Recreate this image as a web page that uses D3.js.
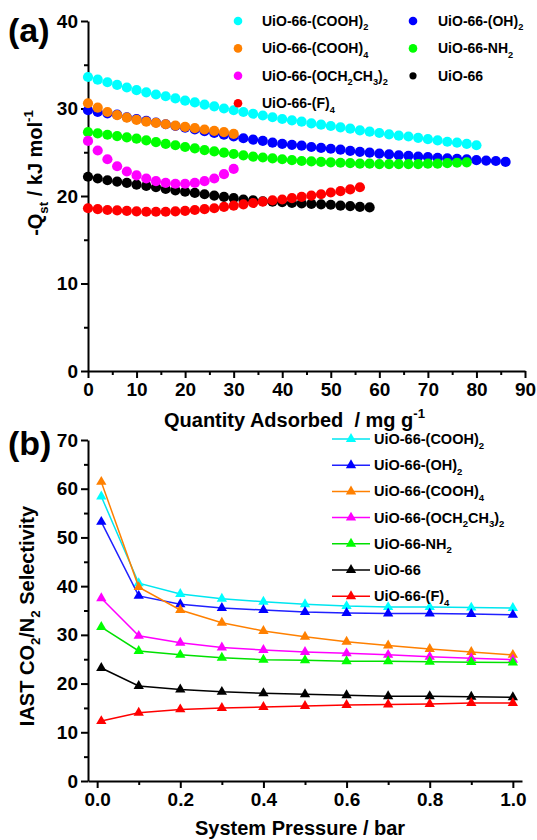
<!DOCTYPE html>
<html>
<head>
<meta charset="utf-8">
<script src="https://cdn.jsdelivr.net/npm/d3@7"></script>
<style>
    body { margin: 0; background: #fff; }
    svg { display: block; font-family: Arial, "Liberation Sans", sans-serif; font-weight: bold; }
    text { white-space: pre; }
</style>
</head>
<body>
<div id="vis"></div>
<script>
// ---- panel (a): isosteric heat vs loading ----
var loading = [0, 2, 4, 6, 8, 10, 12, 14, 16, 18, 20, 22, 24, 26, 28, 30, 32, 34, 36, 38, 40, 42,
    44, 46, 48, 50, 52, 54, 56, 58, 60, 62, 64, 66, 68, 70, 72, 74, 76, 78, 80, 82, 84, 86];

var qstCOOH2 = [33.6, 33.3, 33.0, 32.7, 32.4, 32.1, 31.85, 31.6, 31.4, 31.15, 30.9, 30.7, 30.45, 30.25,
    30.0, 29.8, 29.6, 29.4, 29.2, 29.0, 28.8, 28.65, 28.5, 28.3, 28.15, 28.0, 27.85, 27.7, 27.5, 27.35,
    27.2, 27.05, 26.9, 26.8, 26.65, 26.5, 26.35, 26.2, 26.1, 25.95, 25.8];
var qstOH2 = [29.8, 29.6, 29.45, 29.3, 29.0, 28.8, 28.6, 28.4, 28.2, 28.0, 27.8, 27.6, 27.4, 27.2, 27.0,
    26.8, 26.6, 26.45, 26.3, 26.1, 25.95, 25.85, 25.75, 25.6, 25.5, 25.4, 25.3, 25.15, 25.05, 24.95,
    24.85, 24.75, 24.65, 24.6, 24.5, 24.45, 24.35, 24.3, 24.25, 24.2, 24.1, 24.05, 24.0, 23.9];
var qstCOOH4 = [30.6, 30.1, 29.6, 29.25, 28.95, 28.7, 28.5, 28.35, 28.2, 28.05, 27.9, 27.75, 27.6, 27.45,
    27.3, 27.1];
var qstNH2 = [27.3, 27.15, 27.0, 26.85, 26.7, 26.55, 26.35, 26.15, 25.95, 25.8, 25.6, 25.45, 25.25, 25.1,
    24.95, 24.8, 24.65, 24.5, 24.4, 24.3, 24.2, 24.1, 24.0, 23.95, 23.9, 23.85, 23.8, 23.75, 23.7, 23.7,
    23.65, 23.65, 23.65, 23.65, 23.65, 23.7, 23.7, 23.75, 23.8, 23.85];
var qstOCH2CH3 = [26.3, 25.2, 24.2, 23.4, 22.8, 22.35, 22.0, 21.7, 21.5, 21.4, 21.4, 21.5, 21.7, 22.0,
    22.5, 23.1];
var qstUiO66 = [22.2, 22.0, 21.8, 21.65, 21.5, 21.3, 21.15, 21.0, 20.8, 20.65, 20.5, 20.35, 20.2, 20.05,
    19.9, 19.75, 19.6, 19.5, 19.4, 19.35, 19.3, 19.2, 19.15, 19.1, 19.05, 19.0, 18.9, 18.85, 18.75, 18.7];
var qstF4 = [18.6, 18.5, 18.4, 18.35, 18.3, 18.25, 18.2, 18.2, 18.2, 18.25, 18.3, 18.4, 18.5, 18.6,
    18.75, 18.9, 19.05, 19.2, 19.35, 19.5, 19.6, 19.75, 19.9, 20.05, 20.2, 20.4, 20.55, 20.75, 21.0];

var qstXTicks = [0, 10, 20, 30, 40, 50, 60, 70, 80, 90];
var qstYTicks = [0, 10, 20, 30, 40];

// ---- panel (b): IAST selectivity vs pressure ----
var pressure = [0.01, 0.1, 0.2, 0.3, 0.4, 0.5, 0.6, 0.7, 0.8, 0.9, 1.0];

var selCOOH2 = [58.4, 40.6, 38.4, 37.4, 36.8, 36.3, 35.9, 35.7, 35.7, 35.6, 35.5];
var selOH2 = [53.2, 38.0, 36.3, 35.5, 35.1, 34.7, 34.5, 34.4, 34.4, 34.3, 34.1];
var selCOOH4 = [61.4, 39.8, 35.1, 32.5, 30.8, 29.6, 28.6, 27.8, 27.1, 26.5, 25.9];
var selOCH2CH3 = [37.5, 29.8, 28.4, 27.4, 26.9, 26.5, 26.2, 25.9, 25.5, 25.2, 24.9];
var selNH2 = [31.6, 26.7, 25.9, 25.3, 24.9, 24.8, 24.6, 24.6, 24.5, 24.4, 24.3];
var selUiO66 = [23.2, 19.5, 18.8, 18.3, 18.0, 17.8, 17.6, 17.4, 17.4, 17.3, 17.2];
var selF4 = [12.3, 14.0, 14.7, 15.0, 15.2, 15.4, 15.6, 15.7, 15.8, 16.0, 16.0];

var selXTicks = [0, 0.2, 0.4, 0.6, 0.8, 1.0];
var selYTicks = [0, 10, 20, 30, 40, 50, 60, 70];

// names ( _{..} subscript, ^{..} superscript )
var nameCOOH2 = 'UiO-66-(COOH)_{2}';
var nameOH2 = 'UiO-66-(OH)_{2}';
var nameCOOH4 = 'UiO-66-(COOH)_{4}';
var nameOCH2CH3 = 'UiO-66-(OCH_{2}CH_{3})_{2}';
var nameNH2 = 'UiO-66-NH_{2}';
var nameUiO66 = 'UiO-66';
var nameF4 = 'UiO-66-(F)_{4}';


function richText(sel, str, size)
{
    var parts = str.split(/(_\{[^}]*\}|\^\{[^}]*\})/).filter(function(s) { return s.length > 0; });
    var off = 0;
    parts.forEach(function(p)
    {
        var target = 0, fs = size, txt = p;
        if(p[0] === '_') { target = size * 0.32; fs = size * 0.66; txt = p.slice(2, -1); }
        else if(p[0] === '^') { target = -size * 0.45; fs = size * 0.66; txt = p.slice(2, -1); }
        sel.append('tspan')
            .attr('dy', target - off)
            .attr('font-size', fs)
            .text(txt);
        off = target;
    });
    return sel;
}

function styleAxis(g, fontSize)
{
    g.select('.domain').attr('stroke', '#000').attr('stroke-width', 2);
    g.selectAll('.tick line').attr('stroke', '#000').attr('stroke-width', 2);
    g.selectAll('.tick text')
        .attr('fill', '#000')
        .attr('font-size', fontSize)
        .attr('font-weight', 'bold')
        .attr('font-family', 'Arial, "Liberation Sans", sans-serif');
}

var W = 537, H = 840;
var svg = d3.select('#vis').append('svg')
    .attr('width', W)
    .attr('height', H);

// ================= panel (a) =================
var topSeries = [
    { name: nameUiO66, color: '#000000', y: qstUiO66 },
    { name: nameOH2, color: '#0000ff', y: qstOH2 },
    { name: nameCOOH2, color: '#00ffff', y: qstCOOH2 },
    { name: nameNH2, color: '#00ff00', y: qstNH2 },
    { name: nameCOOH4, color: '#ff8000', y: qstCOOH4 },
    { name: nameOCH2CH3, color: '#ff00ff', y: qstOCH2CH3 },
    { name: nameF4, color: '#ff0000', y: qstF4 }
];

var xA = d3.scaleLinear().domain([0, 90]).range([88, 525]);
var yA = d3.scaleLinear().domain([0, 40]).range([371, 21]);

var gA = svg.append('g');

// minor ticks
gA.append('g')
    .attr('transform', 'translate(0,371)')
    .call(d3.axisBottom(xA).tickValues(d3.range(5, 90, 10)).tickFormat('').tickSize(4).tickSizeOuter(0))
    .call(function(g) { styleAxis(g, 19); g.select('.domain').remove(); });
gA.append('g')
    .attr('transform', 'translate(88,0)')
    .call(d3.axisLeft(yA).tickValues(d3.range(5, 40, 10)).tickFormat('').tickSize(4).tickSizeOuter(0))
    .call(function(g) { styleAxis(g, 19); g.select('.domain').remove(); });

// major axes
gA.append('g')
    .attr('transform', 'translate(0,371)')
    .call(d3.axisBottom(xA).tickValues(qstXTicks).tickSize(7).tickPadding(5).tickSizeOuter(0))
    .call(function(g) { styleAxis(g, 19); });
gA.append('g')
    .attr('transform', 'translate(88,0)')
    .call(d3.axisLeft(yA).tickValues(qstYTicks).tickSize(7).tickPadding(3).tickSizeOuter(0))
    .call(function(g) { styleAxis(g, 19); });

// scatter dots
topSeries.forEach(function(s)
{
    gA.append('g')
        .selectAll('circle')
        .data(s.y)
        .join('circle')
            .attr('cx', function(d, i) { return xA(loading[i]); })
            .attr('cy', function(d) { return yA(d); })
            .attr('r', 5.1)
            .attr('fill', s.color);
});

// legend (a)
var legA = [
    { name: nameCOOH2, color: '#00ffff', col: 0, row: 0 },
    { name: nameCOOH4, color: '#ff8000', col: 0, row: 1 },
    { name: nameOCH2CH3, color: '#ff00ff', col: 0, row: 2 },
    { name: nameF4, color: '#ff0000', col: 0, row: 3 },
    { name: nameOH2, color: '#0000ff', col: 1, row: 0 },
    { name: nameNH2, color: '#00ff00', col: 1, row: 1 },
    { name: nameUiO66, color: '#000000', col: 1, row: 2 }
];
var legAMarkX = [238, 413], legATextX = [262, 438];
legA.forEach(function(d)
{
    var cy = 21 + d.row * 27.4;
    gA.append('circle')
        .attr('cx', legAMarkX[d.col])
        .attr('cy', cy)
        .attr('r', d.color === '#000000' ? 3.6 : 4.3)
        .attr('fill', d.color);
    richText(gA.append('text')
        .attr('x', legATextX[d.col])
        .attr('y', cy + 5), d.name, 14);
});

// titles (a)
gA.append('text').attr('x', 8).attr('y', 42).attr('font-size', 34).text('(a)');
richText(gA.append('text').attr('x', 164).attr('y', 427), 'Quantity Adsorbed  / mg g^{-1}', 20);
richText(gA.append('text')
    .attr('text-anchor', 'middle')
    .attr('transform', 'translate(42,173) rotate(-90)'), '-Q_{st} / kJ mol^{-1}', 20);

// ================= panel (b) =================
var botSeries = [
    { name: nameCOOH2, color: '#00ffff', line: '#00e6f0', y: selCOOH2 },
    { name: nameOH2, color: '#0000ff', line: '#2020ff', y: selOH2 },
    { name: nameCOOH4, color: '#ff8000', line: '#ff8000', y: selCOOH4 },
    { name: nameOCH2CH3, color: '#ff00ff', line: '#ff00ff', y: selOCH2CH3 },
    { name: nameNH2, color: '#00ff00', line: '#00e000', y: selNH2 },
    { name: nameUiO66, color: '#000000', line: '#000000', y: selUiO66 },
    { name: nameF4, color: '#ff0000', line: '#ff0000', y: selF4 }
];

var xB = d3.scaleLinear().domain([-0.022, 1.022]).range([88, 522]);
var yB = d3.scaleLinear().domain([0, 70]).range([781, 440]);

var gB = svg.append('g');

gB.append('g')
    .attr('transform', 'translate(0,781)')
    .call(d3.axisBottom(xB).tickValues(d3.range(0.1, 1.0, 0.2)).tickFormat('').tickSize(4).tickSizeOuter(0))
    .call(function(g) { styleAxis(g, 19); g.select('.domain').remove(); });
gB.append('g')
    .attr('transform', 'translate(88,0)')
    .call(d3.axisLeft(yB).tickValues(d3.range(5, 70, 10)).tickFormat('').tickSize(4).tickSizeOuter(0))
    .call(function(g) { styleAxis(g, 19); g.select('.domain').remove(); });

gB.append('g')
    .attr('transform', 'translate(0,781)')
    .call(d3.axisBottom(xB).tickValues(selXTicks).tickFormat(d3.format('.1f')).tickSize(7).tickPadding(5).tickSizeOuter(0))
    .call(function(g) { styleAxis(g, 19); });
gB.append('g')
    .attr('transform', 'translate(88,0)')
    .call(d3.axisLeft(yB).tickValues(selYTicks).tickSize(7).tickPadding(3).tickSizeOuter(0))
    .call(function(g) { styleAxis(g, 19); });

var tri = d3.symbol().type(d3.symbolTriangle).size(46);
var lineB = d3.line()
    .x(function(d, i) { return xB(pressure[i]); })
    .y(function(d) { return yB(d); });

botSeries.forEach(function(s)
{
    var g = gB.append('g');
    g.append('path')
        .attr('d', lineB(s.y))
        .attr('fill', 'none')
        .attr('stroke', s.line)
        .attr('stroke-width', 1.5);
    g.selectAll('path.mk')
        .data(s.y)
        .join('path')
            .attr('class', 'mk')
            .attr('d', tri)
            .attr('transform', function(d, i) { return 'translate(' + xB(pressure[i]) + ',' + yB(d) + ')'; })
            .attr('fill', s.color);
});

// legend (b)
botSeries.forEach(function(s, i)
{
    var cy = 439 + i * 26.2;
    gB.append('line')
        .attr('x1', 332).attr('x2', 370)
        .attr('y1', cy).attr('y2', cy)
        .attr('stroke', s.line)
        .attr('stroke-width', 1.5);
    gB.append('path')
        .attr('d', tri)
        .attr('transform', 'translate(351,' + cy + ')')
        .attr('fill', s.color);
    richText(gB.append('text')
        .attr('x', 374)
        .attr('y', cy + 5), s.name, 14.5);
});

// titles (b)
gB.append('text').attr('x', 8).attr('y', 455).attr('font-size', 34).text('(b)');
richText(gB.append('text').attr('x', 195).attr('y', 835), 'System Pressure / bar', 20);
richText(gB.append('text')
    .attr('text-anchor', 'middle')
    .attr('transform', 'translate(34,616) rotate(-90)'), 'IAST CO_{2}/N_{2} Selectivity', 20);
</script>
</body>
</html>
